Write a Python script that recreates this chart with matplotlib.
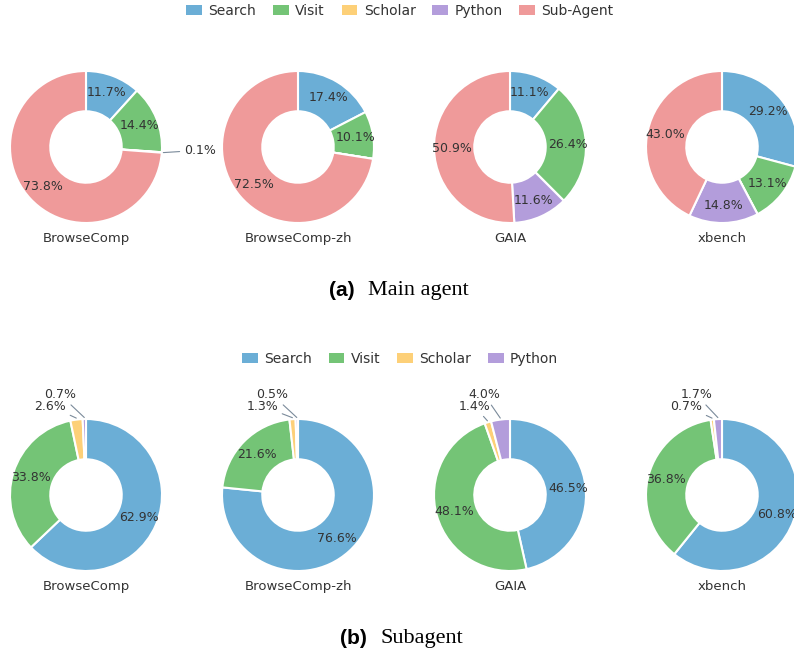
import matplotlib
matplotlib.use('Agg')
import matplotlib.pyplot as plt
from matplotlib.patches import Patch
import numpy as np

# Tool categories and colours
tools = ['Search', 'Visit', 'Scholar', 'Python', 'Sub-Agent']
colors = ['#6baed6', '#74c476', '#fdd078', '#b39ddb', '#ef9a9a']
benchmarks = ['BrowseComp', 'BrowseComp-zh', 'GAIA', 'xbench']

# (a) Main agent: share of calls per tool (%), order = tools
main_browsecomp = [11.7, 14.4, 0.1, 0.0, 73.8]
main_browsecomp_zh = [17.4, 10.1, 0.0, 0.0, 72.5]
main_gaia = [11.1, 26.4, 0.0, 11.6, 50.9]
main_xbench = [29.2, 13.1, 0.0, 14.8, 43.0]

# (b) Subagent: Search, Visit, Scholar, Python
sub_browsecomp = [62.9, 33.8, 2.6, 0.7]
sub_browsecomp_zh = [76.6, 21.6, 1.3, 0.5]
sub_gaia = [46.5, 48.1, 1.4, 4.0]
sub_xbench = [60.8, 36.8, 0.7, 1.7]

main_data = [main_browsecomp, main_browsecomp_zh, main_gaia, main_xbench]
sub_data = [sub_browsecomp, sub_browsecomp_zh, sub_gaia, sub_xbench]

TEXT = '#333333'
W, H = 794, 653
R_PX = 76   # pie radius in pixels
LIM = 1.3


def draw_donut(cx, cy, values, name):
    side = 2 * LIM * R_PX
    ax = fig.add_axes([(cx - side / 2) / W, (H - cy - side / 2) / H, side / W, side / H])
    wedges, _ = ax.pie(values, colors=colors[:len(values)], startangle=90, counterclock=False,
                       radius=1.0, wedgeprops=dict(width=0.53, edgecolor='white', linewidth=1.5))
    ax.set_xlim(-LIM, LIM)
    ax.set_ylim(-LIM, LIM)
    ax.set_aspect('equal')

    k = 0
    for w, v in zip(wedges, values):
        if v <= 0:
            continue
        ang = np.deg2rad((w.theta1 + w.theta2) / 2)
        x, y = np.cos(ang), np.sin(ang)
        label = f'{v:.1f}%'
        if v < 5:
            # small slices get an outside label with a leader line
            if y > 0.7:
                tx, ty = -0.47 + 0.13 * k, 1.17 + 0.15 * k
            else:
                tx, ty = 1.5 * x, 0.6 * y
            ax.annotate(label, xy=(1.02 * x, 1.02 * y), xytext=(tx, ty), ha='center', va='center',
                        fontsize=9, color=TEXT, annotation_clip=False,
                        arrowprops=dict(arrowstyle='-', color='#7a8a9a', lw=0.8, shrinkA=1, shrinkB=0))
            k += 1
        else:
            ax.text(0.765 * x, 0.765 * y, label, ha='center', va='center', fontsize=9, color=TEXT)

    ax.text(0, -1.2, name, ha='center', va='center', fontsize=9.5, color=TEXT)


fig = plt.figure(figsize=(W / 100, H / 100), dpi=100)

x_centers = [86, 298, 510, 722]
for cx, vals, name in zip(x_centers, main_data, benchmarks):
    draw_donut(cx, 147, vals, name)
for cx, vals, name in zip(x_centers, sub_data, benchmarks):
    draw_donut(cx, 495, vals, name)

# Legends
def add_legend(n, y):
    handles = [Patch(facecolor=colors[i], label=tools[i]) for i in range(n)]
    leg = fig.legend(handles=handles, loc='center', bbox_to_anchor=(400 / W, 1 - y / H), ncol=n,
                     frameon=False, fontsize=10, handlelength=1.15, handleheight=0.75,
                     handletextpad=0.45, columnspacing=1.2)
    for t in leg.get_texts():
        t.set_color(TEXT)

add_legend(5, 11)
add_legend(4, 359)

# Captions
fig.text(355 / W, 1 - 291 / H, '(a)', ha='right', va='center', fontsize=15,
         fontweight='bold', family='Liberation Sans')
fig.text(368 / W, 1 - 291 / H, 'Main agent', ha='left', va='center', fontsize=16,
         family='Liberation Serif')
fig.text(367 / W, 1 - 638 / H, '(b)', ha='right', va='center', fontsize=15,
         fontweight='bold', family='Liberation Sans')
fig.text(380 / W, 1 - 638 / H, 'Subagent', ha='left', va='center', fontsize=16,
         family='Liberation Serif')

fig.savefig('out.png', dpi=100)
